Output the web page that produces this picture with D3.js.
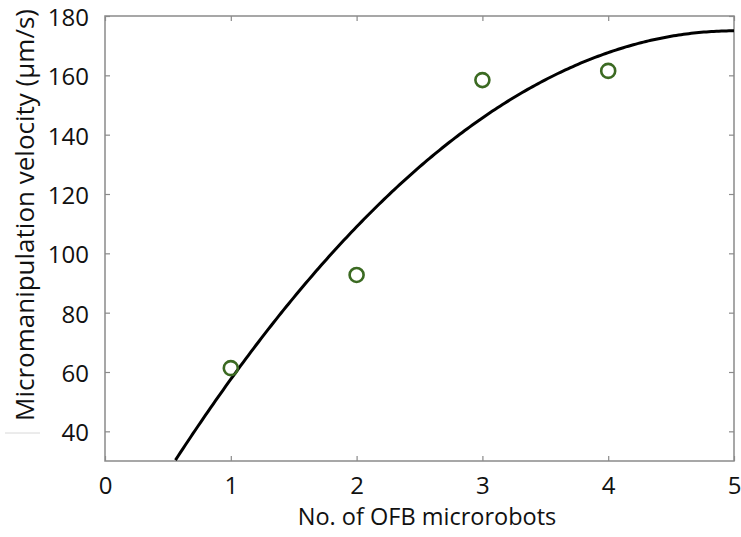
<!DOCTYPE html>
<html>
<head>
<meta charset="utf-8">
<script src="https://cdn.jsdelivr.net/npm/d3@7/dist/d3.min.js"></script>
<style>
  html, body { margin: 0; padding: 0; background: #fff; }
  svg { display: block; }
  text { font-family: "Open Sans", "Noto Sans", sans-serif; fill: #111; }
</style>
</head>
<body>
<svg id="chart" width="741" height="537"></svg>
<script>
// Measured micromanipulation velocity against number of OFB microrobots
const robots = [1, 2, 3, 4];
const velocity = [61.3, 92.7, 158.4, 161.5];

// Quadratic trend line coefficients: v = c0 + c1*n + c2*n^2
const trendCoef = [-8.5, 73.4, -7.34];

const xTicks = [0, 1, 2, 3, 4, 5];
const yTicks = [40, 60, 80, 100, 120, 140, 160, 180];

const svg = d3.select("#chart");
const margin = { left: 105, right: 7, top: 16, bottom: 76 };
const W = 741, H = 537;

const x = d3.scaleLinear().domain([0, 5]).range([margin.left, W - margin.right]);
const y = d3.scaleLinear().domain([30, 180]).range([H - margin.bottom, margin.top]);

const frameColor = "#8a8a8a";

// Plot frame
svg.append("rect")
  .attr("x", x(0)).attr("y", y(180))
  .attr("width", x(5) - x(0)).attr("height", y(30) - y(180))
  .attr("fill", "none").attr("stroke", frameColor).attr("stroke-width", 1.5);

// Inward ticks on all four sides
const tl = 5;
const axisLeft = d3.axisLeft(y).tickValues(yTicks).tickSizeInner(-tl).tickSizeOuter(0).tickFormat(d3.format("d")).tickPadding(16);
const gL = svg.append("g").attr("transform", `translate(${x(0)},0)`).call(axisLeft);
const axisRight = d3.axisRight(y).tickValues(yTicks).tickSizeInner(-tl).tickSizeOuter(0).tickFormat("");
const gR = svg.append("g").attr("transform", `translate(${x(5)},0)`).call(axisRight);
const axisBottom = d3.axisBottom(x).tickValues(xTicks).tickSizeInner(-tl).tickSizeOuter(0).tickFormat(d3.format("d")).tickPadding(16);
const gB = svg.append("g").attr("transform", `translate(0,${y(30)})`).call(axisBottom);
const axisTop = d3.axisTop(x).tickValues(xTicks).tickSizeInner(-tl).tickSizeOuter(0).tickFormat("");
const gT = svg.append("g").attr("transform", `translate(0,${y(180)})`).call(axisTop);

[gL, gR, gB, gT].forEach(g => {
  g.select(".domain").remove();
  g.selectAll(".tick line").attr("stroke", frameColor).attr("stroke-width", 1.2);
  g.selectAll(".tick text")
    .style("font-family", "'Open Sans', 'Noto Sans', sans-serif")
    .style("font-size", "24px").attr("fill", "#111");
});
gL.selectAll(".tick text").attr("dy", "0.4em");

// Trend line
const trend = n => trendCoef[0] + trendCoef[1] * n + trendCoef[2] * n * n;
const nStart = d3.range(0, 5.0001, 0.01).find(n => trend(n) >= 30);
const samples = d3.range(nStart, 5.0001, 0.02).map(n => [n, trend(n)]);
svg.append("path")
  .datum(samples)
  .attr("fill", "none").attr("stroke", "#000").attr("stroke-width", 3)
  .attr("d", d3.line().x(d => x(d[0])).y(d => y(d[1])));

// Data points
svg.append("g").selectAll("circle")
  .data(robots.map((n, i) => [n, velocity[i]]))
  .join("circle")
  .attr("cx", d => x(d[0])).attr("cy", d => y(d[1])).attr("r", 7)
  .attr("fill", "none").attr("stroke", "#3b6a22").attr("stroke-width", 2.6);

// Axis titles
svg.append("text")
  .attr("x", 427).attr("y", 525)
  .attr("text-anchor", "middle").style("font-size", "23.5px")
  .text("No. of OFB microrobots");

svg.append("text")
  .attr("transform", `translate(34,215) rotate(-90)`)
  .attr("text-anchor", "middle").style("font-size", "26px")
  .text("Micromanipulation velocity (µm/s)");

// Short faint rule under the vertical title
svg.append("line")
  .attr("x1", 5).attr("x2", 40).attr("y1", 433).attr("y2", 433)
  .attr("stroke", "#d8d8d8").attr("stroke-width", 1);
</script>
</body>
</html>
